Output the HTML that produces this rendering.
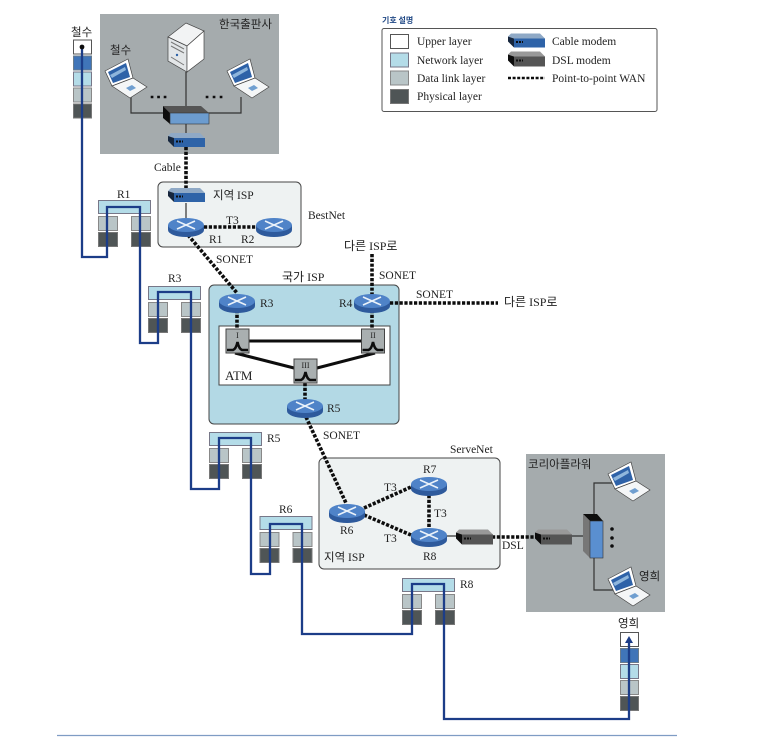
<!DOCTYPE html>
<html><head><meta charset="utf-8"><style>
html,body{margin:0;padding:0;background:#fff}
svg{display:block}
text{font-family:"Liberation Serif","Noto Sans CJK KR",serif;font-size:11.5px;fill:#222}
.d{fill:none;stroke:#0c0c0c;stroke-width:3.6;stroke-dasharray:3.2 1.6}
.t{fill:none;stroke:#333;stroke-width:1.2}
.b{fill:none;stroke:#1a3c88;stroke-width:2.3}
.u{fill:#fff;stroke:#555}.c{fill:#3f74b8;stroke:#6b7b8b}.n{fill:#b4dce8;stroke:#778}.l{fill:#b9c5c7;stroke:#888}.p{fill:#505456;stroke:#777}
</style></head><body>
<svg xmlns="http://www.w3.org/2000/svg" width="760" height="754" viewBox="0 0 760 754">
<defs>
<filter id="s"><feGaussianBlur stdDeviation=".3"/></filter>
<g id="router"><path d="M-18-2V3A18 7 0 0 0 18 3V-2Z" fill="#2d5a9c"/><ellipse cx="0" cy="-2" rx="18" ry="7" fill="#4f83c8"/><path d="M-9-6L9 2M-9 2L9-6" stroke="#eaf2fa" stroke-width="1.6"/></g>
<g id="cm"><path d="M0 3L3 0H32L37 5H6Z" fill="#8fa9c6"/><path d="M0 3L6 5V14L0 8Z" fill="#16263c"/><rect x="6" y="5" width="31" height="9" fill="#2f64a8"/><path d="M8 8.500h7" stroke="#111" stroke-width="2" stroke-dasharray="2 1"/></g>
<g id="dm"><path d="M0 3L3 0H32L37 5H6Z" fill="#999"/><path d="M0 3L6 5V15L0 9Z" fill="#111"/><rect x="6" y="5" width="31" height="10" fill="#555"/><path d="M8 9h7" stroke="#111" stroke-width="2" stroke-dasharray="2 1"/></g>
<g id="lap"><path d="M0 12L23 0L28 19L7 27Z" fill="#fff" stroke="#444" stroke-width=".7"/><path d="M3 13L21 4L25 18L8 24Z" fill="#2f62a8"/><path d="M5 16L20 8L21 11L7 19Z" fill="#8fb6dc"/><path d="M7 27L28 19L42 28L25 39Z" fill="#f4f6f7" stroke="#444" stroke-width=".7"/><path d="M21 29L27 26L31 29L25 32Z" fill="#6f9fd0"/></g>
<g id="sw"><rect width="23" height="24" fill="#a9afb0" stroke="#444"/><path d="M1 21H7Q10 20 11.500 13Q13 20 16 21H22" fill="none" stroke="#111" stroke-width="2.600"/></g>
<g id="stack"><rect x=".5" y=".5" width="52" height="13" class="n"/><rect x=".5" y="16.500" width="19" height="14" class="l"/><rect x=".5" y="32.500" width="19" height="14" class="p"/><rect x="33.500" y="16.500" width="19" height="14" class="l"/><rect x="33.500" y="32.500" width="19" height="14" class="p"/></g>
<g id="host"><rect x=".5" y=".5" width="18" height="14" class="u"/><rect x=".5" y="16.500" width="18" height="14" class="c"/><rect x=".5" y="32.500" width="18" height="14" class="n"/><rect x=".5" y="48.500" width="18" height="14" class="l"/><rect x=".5" y="64.500" width="18" height="14" class="p"/></g>
</defs>
<g filter="url(#s)">
<rect x="100" y="14" width="179" height="140" fill="#a5abad"/>
<rect x="526" y="454" width="139" height="158" fill="#a5abad"/>
<rect x="158" y="182" width="143" height="65" rx="5" fill="#eef2f2" stroke="#444"/>
<rect x="209" y="285" width="190" height="139" rx="5" fill="#b3d9e5" stroke="#444"/>
<rect x="219" y="326" width="171" height="59" fill="#fff" stroke="#444"/>
<rect x="319" y="458" width="181" height="111" rx="5" fill="#eef2f2" stroke="#444"/>
<path class="t" d="M186 72V133M131 97V113H241V97M186 203V218M447 536H456M572 536H583M613 483H594V514M594 558V590H613"/>
<path class="d" d="M186 147V188M204 227H257M188 235L237 293M237 310V330M372 254V295M372 310V330M390 303H498M305 383V400M306 417L346 503M364 508L411 487M364 515L411 535M429 495V527M492 537H535"/>
<path d="M249 341H361M235 353L294 368M375 353L317 368" fill="none" stroke="#111" stroke-width="3"/>
<use href="#lap" x="105" y="59"/><use href="#lap" x="227" y="59"/>
<g transform="translate(168 23)"><path d="M0 14L18 0L36 8L19 23Z" fill="#f2f3f4" stroke="#444" stroke-width=".7"/><path d="M0 14L19 23V49L0 38Z" fill="#e3e6e8" stroke="#444" stroke-width=".7"/><path d="M19 23L36 8V36L19 49Z" fill="#fff" stroke="#444" stroke-width=".7"/><path d="M3 19L16 26M3 23L16 30M3 34L16 42" stroke="#777"/><circle cx="9" cy="32" r="1.200" fill="#2f62a8"/></g>
<g transform="translate(163 105)"><path d="M0 1H38L46 8H7Z" fill="#555"/><path d="M0 1L7 8V19L0 13Z" fill="#111"/><rect x="7" y="8" width="39" height="11" fill="#6c9ccf" stroke="#333" stroke-width=".6"/></g>
<use href="#cm" x="168" y="133"/><use href="#cm" x="168" y="188"/>
<path d="M152 97h.1M158.500 97h.1M165 97h.1M207 97h.1M214 97h.1M221 97h.1" stroke="#111" stroke-width="2.600" stroke-linecap="square"/>
<use href="#router" x="186" y="227"/><use href="#router" x="274" y="227"/>
<use href="#router" x="237" y="303"/><use href="#router" x="372" y="303"/><use href="#router" x="305" y="408"/>
<use href="#sw" x="226" y="329"/><use href="#sw" x="361.500" y="329"/><use href="#sw" x="294" y="359"/>
<use href="#router" x="347" y="513"/><use href="#router" x="429" y="486"/><use href="#router" x="429" y="537"/>
<use href="#dm" x="456" y="529.500"/><use href="#dm" x="535" y="529.500"/>
<g transform="translate(583 514)"><path d="M0 0H14L20 7H7Z" fill="#111"/><path d="M0 0L7 7V44L0 37Z" fill="#777"/><rect x="7" y="7" width="13" height="37" fill="#5a8fd0" stroke="#333" stroke-width=".6"/></g>
<circle cx="612" cy="529" r="1.800" fill="#111"/><circle cx="612" cy="538" r="1.800" fill="#111"/><circle cx="612" cy="546" r="1.800" fill="#111"/>
<use href="#lap" x="608" y="462"/><use href="#lap" x="608" y="567"/>
<use href="#host" x="73" y="39.500"/><use href="#host" x="620" y="632"/>
<use href="#stack" x="98" y="200"/><use href="#stack" x="148" y="286"/><use href="#stack" x="209" y="432"/><use href="#stack" x="259.500" y="516"/><use href="#stack" x="402" y="578"/>
<path class="b" d="M82 47V257H107V207H140V343H158V292H191V489H219V438H251V574H270V524H302V634H412V584H444V719H629V640"/>
<circle cx="82" cy="47" r="2.400" fill="#111"/>
<path d="M629 636L625 643H633Z" fill="#1a3c88"/>
<text x="382" y="23" style="font-family:'Noto Sans CJK KR',sans-serif;font-size:8px;font-weight:700;fill:#234a86">기호 설명</text>
<rect x="382" y="28.500" width="275" height="83" rx="2" fill="#fff" stroke="#555"/>
<rect x="390.500" y="34.500" width="18" height="14" class="u"/><rect x="390.500" y="53" width="18" height="14" class="n"/><rect x="390.500" y="71" width="18" height="14" class="l"/><rect x="390.500" y="89.500" width="18" height="14" class="p"/>
<text x="417" y="45">Upper layer</text><text x="417" y="64">Network layer</text><text x="417" y="82">Data link layer</text><text x="417" y="100">Physical layer</text>
<use href="#cm" x="508" y="33.500"/><use href="#dm" x="508" y="51.500"/>
<path d="M508 78H545" stroke="#111" stroke-width="2.600" stroke-dasharray="3 1.600"/>
<text x="552" y="45">Cable modem</text><text x="552" y="64">DSL modem</text><text x="552" y="82">Point-to-point WAN</text>
<text x="71" y="36">철수</text><text x="110" y="54">철수</text><text x="219" y="28">한국출판사</text>
<text x="154" y="171">Cable</text><text x="213" y="199">지역 ISP</text><text x="308" y="219">BestNet</text>
<text x="226" y="224">T3</text><text x="209" y="243">R1</text><text x="241" y="243">R2</text><text x="117" y="198">R1</text>
<text x="216" y="263">SONET</text><text x="168" y="282">R3</text><text x="282" y="281" style="font-size:12px">국가 ISP</text>
<text x="344" y="250" style="font-size:12px">다른 ISP로</text><text x="379" y="279">SONET</text><text x="416" y="298">SONET</text><text x="504" y="306" style="font-size:12px">다른 ISP로</text>
<text x="260" y="307">R3</text><text x="339" y="307">R4</text><text x="327" y="412">R5</text>
<text x="225" y="380" style="font-size:13px">ATM</text>
<text x="237.500" y="338" style="font-size:8px" text-anchor="middle">I</text><text x="373" y="338" style="font-size:8px" text-anchor="middle">II</text><text x="305.500" y="368" style="font-size:8px" text-anchor="middle">III</text>
<text x="267" y="442">R5</text><text x="323" y="439">SONET</text><text x="450" y="453">ServeNet</text>
<text x="423" y="473">R7</text><text x="384" y="491">T3</text><text x="434" y="517">T3</text><text x="340" y="534">R6</text><text x="384" y="542">T3</text><text x="423" y="560">R8</text>
<text x="324" y="561">지역 ISP</text><text x="279" y="513">R6</text><text x="460" y="588">R8</text><text x="502" y="549">DSL</text>
<text x="528" y="468">코리아플라워</text><text x="639" y="580">영희</text><text x="618" y="627">영희</text>
<path d="M57 735.500H677" stroke="#7f9cc4" stroke-width="1.300"/>
</g>
</svg>
</body></html>
